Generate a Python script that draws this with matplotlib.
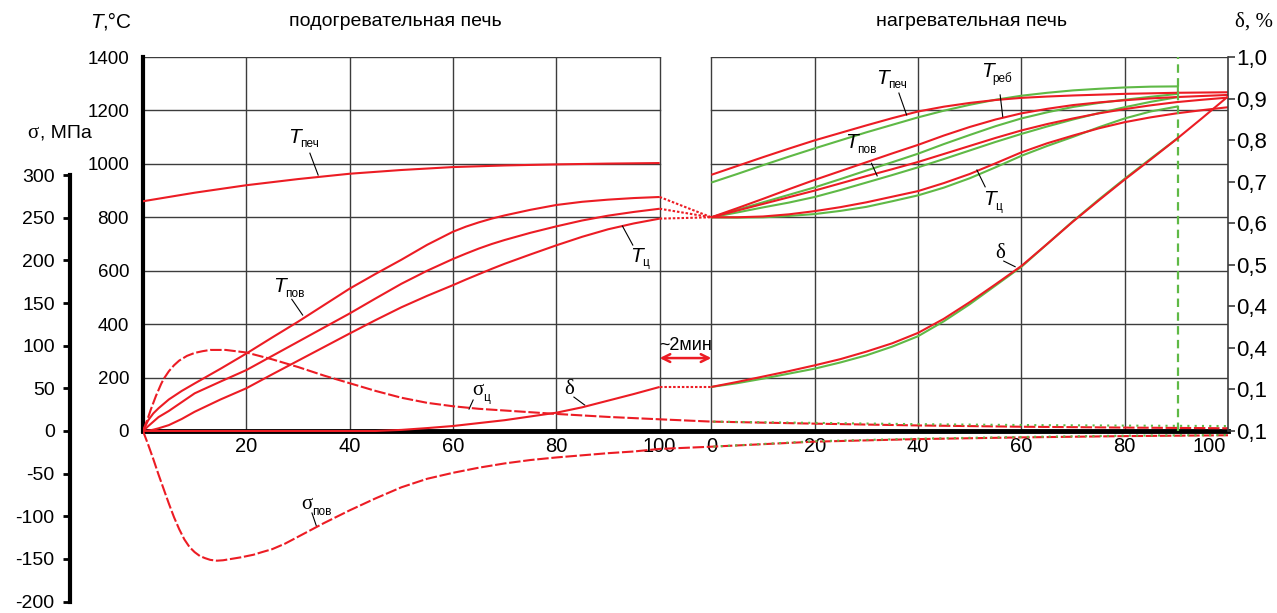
import matplotlib
matplotlib.use("Agg")
import matplotlib.pyplot as plt
from matplotlib.transforms import ScaledTranslation

plt.rcParams['font.family'] = ['Liberation Sans', 'DejaVu Sans']

RED = '#ec1c24'
GREEN = '#5fb946'
GRID = '#3c3c3c'

# ---------------- preheating furnace (minutes 0..100) ----------------
t_pech_L = [0, 10, 20, 30, 40, 50, 60, 70, 80, 90, 100]
T_pech_L = [860, 892, 920, 943, 963, 977, 988, 994, 998, 1001, 1003]

t_L = [0, 1, 2, 3, 5, 7.5, 10, 15, 20, 25, 30, 35, 40, 45, 50, 55, 60, 62.5, 65, 67.5, 70, 75, 80, 85, 90, 95, 100]
T_pov_L = [0, 40, 66, 85, 118, 150, 178, 233, 290, 350, 409, 471, 533, 588, 641, 697, 746, 765, 781, 795, 807, 828, 846, 858, 866, 872, 876]
T_mid_L = [0, 18, 35, 52, 75, 108, 141, 185, 228, 281, 334, 387, 440, 496, 551, 600, 644, 664, 683, 700, 715, 742, 766, 788, 806, 820, 832]
T_c_L = [0, 1, 5, 10, 22, 45, 72, 118, 160, 212, 263, 314, 365, 415, 463, 506, 546, 567, 587, 607, 626, 661, 695, 727, 755, 777, 795]

t_dL = [0, 45, 50, 55, 60, 65, 70, 75, 80, 85, 90, 95, 100]
d_L = [0.1, 0.1, 0.1026, 0.107, 0.112, 0.119, 0.126, 0.135, 0.144, 0.157, 0.173, 0.189, 0.206]

# stresses, MPa (left panel minutes, then heating-furnace minutes)
t_sc_L = [0, 0.5, 1, 1.5, 2, 2.5, 3, 3.5, 4, 5, 6, 7, 8.5, 10, 11.5, 13, 16, 20, 25, 30, 35, 40, 45, 50, 55, 60, 65, 70, 80, 90, 100]
s_c_L = [0, 8, 16, 25, 33, 41, 48, 55, 61, 70, 77, 82.5, 88, 91.5, 93.5, 95, 95, 92, 84, 75, 65, 56, 47, 39, 33, 29, 26, 24, 20, 16.5, 13.7]
t_sp_L = [0, 1, 2, 3, 4, 5, 6, 7, 8, 9, 10, 11, 12, 13, 14.3, 15.5, 17, 19, 21.4, 23, 25, 27.5, 30, 32.5, 35, 40, 45, 50, 55, 60, 65, 70, 75, 80, 85, 90, 95, 100]
s_p_L = [0, -16, -33, -51, -68, -85, -101, -115, -127, -136, -142, -146.5, -149, -151, -152, -151.5, -150, -148, -145, -142, -138.5, -132, -124, -116, -108, -93, -79, -66, -56, -49, -43, -38, -34, -31, -28.5, -26, -24, -21]

t_s_R = [0, 20, 40, 60, 80, 100]
s_c_R = [11, 8.6, 6.5, 5, 4, 3.2]
s_c_R2 = [11, 9.5, 8, 7, 6.3, 5.8]
s_p_R = [-18.4, -12.5, -9.5, -7.5, -6, -5]
s_p_R2 = [-18.4, -12, -9, -7, -5.5, -4.7]

# ---------------- heating furnace (minutes 0..100) ----------------
t_R = [0, 5, 10, 15, 20, 25, 30, 35, 40, 45, 50, 55, 60, 65, 70, 75, 80, 85, 90, 95, 100]
T_pech_R = [959, 992, 1025, 1057, 1088, 1116, 1144, 1171, 1196, 1214, 1228, 1239, 1247, 1252, 1256, 1259, 1262, 1264, 1266, 1267, 1268]
T_reb_R = [800, 834, 869, 905, 940, 973, 1006, 1039, 1071, 1106, 1138, 1166, 1189, 1206, 1220, 1230, 1238, 1245, 1250, 1254, 1258]
T_pov_R = [800, 825, 850, 875, 900, 927, 954, 980, 1007, 1037, 1067, 1097, 1125, 1149, 1170, 1189, 1205, 1219, 1231, 1240, 1248]
T_c_R = [800, 800, 803, 811, 823, 838, 856, 877, 898, 928, 962, 1002, 1043, 1077, 1106, 1133, 1156, 1174, 1189, 1201, 1212]

t_G = [0, 5, 10, 15, 20, 25, 30, 35, 40, 45, 50, 55, 60, 65, 70, 75, 80, 85, 90.3]
T_pech_G = [930, 962, 995, 1027, 1058, 1088, 1118, 1146, 1174, 1199, 1221, 1240, 1255, 1266, 1275, 1281, 1286, 1289, 1290]
T_reb_G = [800, 828, 856, 884, 912, 943, 975, 1006, 1038, 1074, 1108, 1141, 1170, 1193, 1213, 1228, 1240, 1251, 1262]
T_pov_G = [800, 818, 837, 855, 876, 902, 930, 958, 987, 1018, 1050, 1082, 1112, 1140, 1166, 1190, 1212, 1232, 1250]
T_c_G = [800, 799, 800, 805, 812, 824, 839, 860, 882, 911, 946, 987, 1030, 1067, 1101, 1137, 1170, 1196, 1215]
t_end_G = 90.3

t_dR = [0, 5, 10, 15, 20, 25, 30, 35, 40, 45, 50, 55, 60, 65, 70, 75, 80, 85, 90, 95, 100]
d_R = [0.206, 0.218, 0.231, 0.244, 0.258, 0.273, 0.291, 0.311, 0.336, 0.37, 0.41, 0.453, 0.497, 0.55, 0.604, 0.655, 0.705, 0.753, 0.802, 0.853, 0.905]
t_dG = [0, 5, 10, 15, 20, 25, 30, 35, 40, 45, 50, 55, 60, 65, 70, 75, 80, 85, 90.3]
d_G = [0.206, 0.215, 0.226, 0.238, 0.25, 0.265, 0.282, 0.303, 0.328, 0.364, 0.405, 0.45, 0.495, 0.55, 0.605, 0.657, 0.707, 0.755, 0.805]

# axis scales
T_ticks = [0, 200, 400, 600, 800, 1000, 1200, 1400]
x_ticks_L = [20, 40, 60, 80, 100]
x_ticks_R = [0, 20, 40, 60, 80, 100]
s_ticks = [-200, -150, -100, -50, 0, 50, 100, 150, 200, 250, 300]
d_ticks = [0.1, 0.2, 0.3, 0.4, 0.5, 0.6, 0.7, 0.8, 0.9, 1.0]
d_labels = ['0,1', '0,1', '0,4', '0,4', '0,5', '0,6', '0,7', '0,8', '0,9', '1,0']

R0 = 110           # start of the heating-furnace panel on the shared x axis
GAP_T = 800        # temperature at transfer between furnaces


def shift(ts):
    return [R0 + t for t in ts]


W, H = 1277, 613
fig = plt.figure(figsize=(W / 100, H / 100), dpi=100)
ax = fig.add_axes([143 / W, 0, (1228 - 143) / W, (613 - 57) / H])
ax.set_xlim(0, 210)
ax.set_ylim(-681.3, 1400)
ax.patch.set_visible(False)

ax_s = ax.twinx()
ax_s.set_ylim(-213.3, 438.3)
ax_d = ax.twinx()
ax_d.set_ylim(-0.338, 1.0)

# ---- grid ----
lw_g = 1.0
for T in T_ticks[1:]:
    ax.plot([0, 100], [T, T], color=GRID, lw=lw_g, zorder=1)
    ax.plot([R0, 210], [T, T], color=GRID, lw=lw_g, zorder=1)
    if T <= 600:
        ax.plot([100, R0], [T, T], color=GRID, lw=lw_g, zorder=1)
ax.vlines(x_ticks_L, 0, 1400, color=GRID, lw=lw_g, zorder=1)
ax.vlines(shift(x_ticks_R[:-1]), 0, 1400, color=GRID, lw=lw_g, zorder=1)

# ---- spines / ticks ----
for sp in ('top', 'right'):
    ax.spines[sp].set_visible(False)
ax.spines['left'].set_bounds(0, 1400)
ax.spines['left'].set_linewidth(3)
ax.spines['bottom'].set_position(('data', 0))
ax.spines['bottom'].set_linewidth(3.5)
ax.spines['bottom'].set_zorder(2.5)
ax.set_yticks(T_ticks)
ax.set_yticklabels([str(v) for v in T_ticks], fontsize=13.5)
ax.tick_params(axis='y', length=0, pad=10)
ax.set_xticks(x_ticks_L + shift(x_ticks_R))
ax.set_xticklabels([str(v) for v in x_ticks_L + x_ticks_R], fontsize=14.5)
ax.tick_params(axis='x', length=0, pad=4)
last = ax.get_xticklabels()[-1]
last.set_transform(last.get_transform() + ScaledTranslation(-0.19, 0, fig.dpi_scale_trans))

for sp in ('top', 'right', 'bottom'):
    ax_s.spines[sp].set_visible(False)
ax_s.spines['left'].set_visible(True)
ax_s.spines['left'].set_position(('axes', -73 / 1085))
ax_s.spines['left'].set_bounds(-200, 300)
ax_s.spines['left'].set_linewidth(3)
ax_s.yaxis.tick_left()
ax_s.set_yticks(s_ticks)
ax_s.set_yticklabels([str(v) for v in s_ticks], fontsize=14)
ax_s.tick_params(axis='y', direction='out', length=5, width=2, pad=6)

for sp in ('top', 'left', 'bottom'):
    ax_d.spines[sp].set_visible(False)
ax_d.spines['right'].set_bounds(0.1, 1.0)
ax_d.spines['right'].set_color(GRID)
ax_d.spines['right'].set_linewidth(1.2)
ax_d.set_yticks(d_ticks)
ax_d.set_yticklabels(d_labels, fontsize=16)
ax_d.tick_params(axis='y', direction='out', length=5, width=1.2, color=GRID, pad=1)

# ---- curves ----
LW = 1.5
kw = dict(lw=LW, solid_capstyle='butt', solid_joinstyle='round', zorder=3)
ax.plot(t_pech_L, T_pech_L, color=RED, **kw)
ax.plot(t_L, T_pov_L, color=RED, **kw)
ax.plot(t_L, T_mid_L, color=RED, **kw)
ax.plot(t_L, T_c_L, color=RED, **kw)
ax_d.plot(t_dL, d_L, color=RED, **kw)

# transfer between furnaces
dotted = (0, (1.2, 0.9))
for series in (T_pov_L, T_mid_L, T_c_L):
    ax.plot([100, R0], [series[-1], GAP_T], color=RED, lw=LW, ls=dotted, zorder=3)
ax_d.plot([100, R0], [d_L[-1], d_R[0]], color=RED, lw=LW, ls=dotted, zorder=3)

# green: heating-furnace alternative regime
ax.plot(shift(t_G) + [R0 + t_end_G], T_pech_G + [T_reb_G[-1]], color=GREEN, **kw)
for series in (T_reb_G, T_pov_G, T_c_G):
    ax.plot(shift(t_G), series, color=GREEN, **kw)
ax_d.plot(shift(t_dG), d_G, color=GREEN, **kw)

for series in (T_pech_R, T_reb_R, T_pov_R, T_c_R):
    ax.plot(shift(t_R), series, color=RED, **kw)
ax_d.plot(shift(t_dR), d_R, color=RED, **kw)

# stresses
dash_L = (0, (5.5, 1.3))
skw = dict(lw=LW, ls=dash_L, dash_joinstyle='round', zorder=3)
ax_s.plot(t_sc_L + shift(t_s_R), s_c_L + s_c_R, color=RED, **skw)
ax_s.plot(t_sp_L + shift(t_s_R), s_p_L + s_p_R, color=RED, **skw)
dots_G = (2.5, (1.0, 2.5))
ax_s.plot(shift(t_s_R), s_c_R2, color=GREEN, lw=LW, ls=dots_G, zorder=4)
ax_s.plot(shift(t_s_R), s_p_R2, color=GREEN, lw=LW, ls=dots_G, zorder=4)

# end of green regime
ax.vlines(R0 + t_end_G, 0, 1400, color=GREEN, lw=1.6, linestyles=(0, (3.8, 2.4)), zorder=3)

# transfer time arrow
ax.annotate('', xy=(100, 273), xytext=(R0, 273),
            arrowprops=dict(arrowstyle='<->', color=RED, lw=1.8, mutation_scale=14,
                            shrinkA=0, shrinkB=0), zorder=4)
ax.text(105, 320, '~2мин', ha='center', va='center', fontsize=13)


# ---- curve labels ----
def tag(x, y, main, sub=None, serif=False, size=15):
    fam = ['Liberation Serif', 'DejaVu Serif'] if serif else ['Liberation Sans', 'DejaVu Sans']
    ax.text(x, y, main, ha='center', va='center', fontsize=size, family=fam,
            style='normal' if serif else 'italic', zorder=5)
    if sub:
        ax.annotate(sub, (x, y), xytext=(5, -7), textcoords='offset pixels',
                    ha='left', va='center', fontsize=8.5, zorder=5)


def leader(x1, y1, x2, y2):
    ax.plot([x1, x2], [y1, y2], color='black', lw=0.8, zorder=5)


tag(29.4, 1100, 'T', 'печ'); leader(32.3, 1040, 33.9, 958)
tag(26.5, 540, 'T', 'пов'); leader(28.8, 493, 30.9, 434)
tag(95.6, 655, 'T', 'ц'); leader(94.8, 696, 92.8, 767)
tag(64.8, 151, 'σ', 'ц', serif=True); leader(63.9, 116, 63.1, 82)
tag(82.5, 157, 'δ', serif=True); leader(83.4, 127, 85.5, 97)
tag(31.7, -277, 'σ', 'пов', serif=True); leader(32.7, -307, 33.6, -358)
tag(143.2, 1321, 'T', 'печ'); leader(146.3, 1265, 147.8, 1183)
tag(137.2, 1079, 'T', 'пов'); leader(141.0, 1002, 142.1, 955)
tag(163.5, 1345, 'T', 'реб'); leader(165.9, 1258, 166.4, 1177)
tag(163.9, 865, 'T', 'ц'); leader(163.0, 914, 161.4, 977)
tag(165.9, 665, 'δ', serif=True); leader(166.6, 636, 168.8, 615)

# ---- headings ----
def ftext(x, y, s, **k):
    fig.text(x / W, 1 - y / H, s, **k)


ftext(395, 22, 'подогревательная печь', ha='center', va='center', fontsize=14)
ftext(972, 22, 'нагревательная печь', ha='center', va='center', fontsize=14)
ftext(96, 22, 'T', ha='center', va='center', fontsize=15, style='italic')
ftext(102, 22, ',°C', ha='left', va='center', fontsize=15)
ftext(39, 133, 'σ', ha='right', va='center', fontsize=15,
      family=['Liberation Serif', 'DejaVu Serif'])
ftext(40, 133, ', МПа', ha='left', va='center', fontsize=14)
ftext(1254, 22, 'δ, %', ha='center', va='center', fontsize=15,
      family=['Liberation Serif', 'DejaVu Serif'])

fig.savefig('out.png', dpi=100)
